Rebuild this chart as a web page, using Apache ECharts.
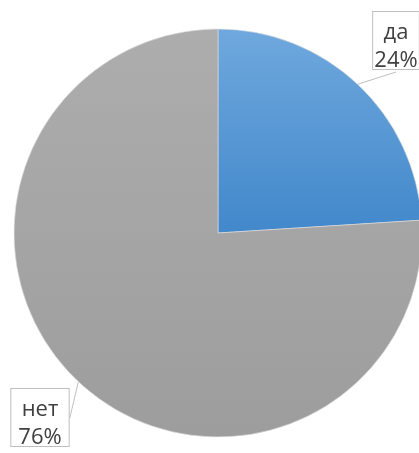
<!DOCTYPE html>
<html><head><meta charset="utf-8">
<script src="https://cdn.jsdelivr.net/npm/echarts@6/dist/echarts.min.js"></script>
<style>html,body{margin:0;padding:0;background:#fff}#c{width:419px;height:453px}</style>
</head><body><div id="c"></div>
<script>
var categories = ['да', 'нет'];
var values = [24, 76];
var chart = echarts.init(document.getElementById('c'));
var fills = [
  new echarts.graphic.LinearGradient(0, 0, 0, 1, [{offset: 0, color: '#6fa8dd'}, {offset: 1, color: '#4288cb'}]),
  new echarts.graphic.LinearGradient(0, 0, 0, 1, [{offset: 0, color: '#adadad'}, {offset: 1, color: '#9d9d9d'}])
];
var labelPos = [
  {x: 396, y: 12},
  {x: 40, y: 389}
];
chart.setOption({
  animation: false,
  series: [{
    type: 'pie',
    center: [218, 233],
    radius: 204,
    startAngle: 90,
    clockwise: true,
    itemStyle: {borderColor: '#e0e0e0', borderWidth: 0.6},
    label: {
      show: true,
      position: 'outside',
      formatter: function (p) { return p.name + '\n' + p.value + '%'; },
      fontFamily: 'Open Sans',
      fontSize: 22,
      lineHeight: 28,
      height: 50,
      color: '#404040',
      backgroundColor: '#ffffff',
      borderColor: '#bfbfbf',
      borderWidth: 1,
      padding: [7, 7, 0, 7],
      align: 'center',
      overflow: 'none'
    },
    labelLine: {show: true, length: 1, length2: 0, lineStyle: {color: '#bfbfbf', width: 1}},
    labelLayout: function (params) {
      var p = labelPos[params.dataIndex];
      return {x: p.x, y: p.y, align: 'center', verticalAlign: 'top'};
    },
    data: categories.map(function (c, i) {
      return {name: c, value: values[i], itemStyle: {color: fills[i]}};
    })
  }]
});
</script></body></html>
